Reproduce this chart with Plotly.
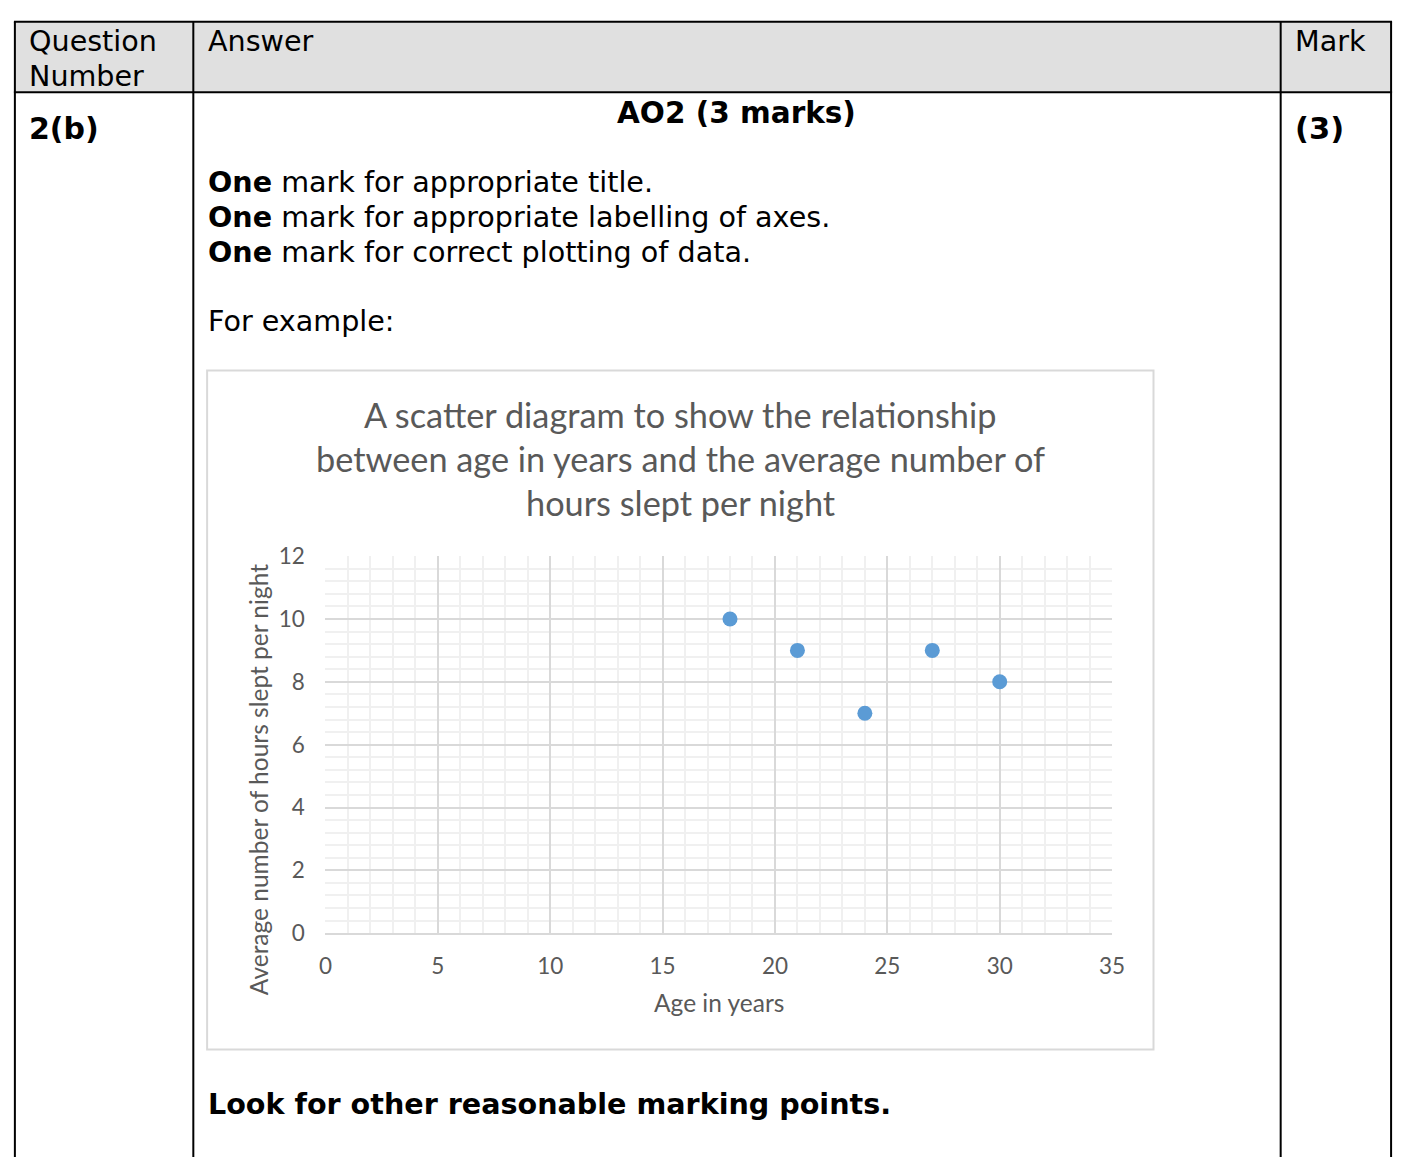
import plotly.graph_objects as go

W, H = 1410, 1165

# ---- data ----
ages = [18, 21, 24, 27, 30]
hours_slept = [10, 9, 7, 9, 8]
x_ticks = [0, 5, 10, 15, 20, 25, 30, 35]
y_ticks = [0, 2, 4, 6, 8, 10, 12]

title_lines = ["A scatter diagram to show the relationship",
               "between age in years and the average number of",
               "hours slept per night"]
x_title = "Age in years"
y_title = "Average number of hours slept per night"

TABLE_FONT = "DejaVu Sans"
CHART_FONT = "Lato"
GREY = "#595959"


def px(x):
    return x / W


def py(y):
    return 1 - y / H


fig = go.Figure()
fig.add_trace(go.Scatter(
    x=ages, y=hours_slept, mode="markers",
    marker=dict(color="#5b9bd5", size=15, line=dict(width=0)),
    showlegend=False, hoverinfo="x+y"))

shapes = []
# header fill
shapes.append(dict(type="rect", xref="paper", yref="paper", layer="below",
                   x0=px(8), x1=px(1404), y0=py(80), y1=py(8),
                   fillcolor="#e0e0e0", line=dict(width=0)))
# chart box
shapes.append(dict(type="rect", xref="paper", yref="paper", layer="below",
                   x0=px(203), x1=px(1163), y0=py(1060), y1=py(365),
                   fillcolor="white", line=dict(color="#d9d9d9", width=2)))
# table lines
for xv in [8, 189, 1292, 1404]:
    shapes.append(dict(type="line", xref="paper", yref="paper",
                       x0=px(xv), x1=px(xv), y0=py(8), y1=py(1170),
                       line=dict(color="black", width=2)))
for yv in [8, 80]:
    shapes.append(dict(type="line", xref="paper", yref="paper",
                       x0=px(7), x1=px(1405), y0=py(yv), y1=py(yv),
                       line=dict(color="black", width=2)))

annotations = []


def txt(text, x, y, size, xanchor="left", font=TABLE_FONT, color="black", textangle=0):
    annotations.append(dict(text=text, x=px(x), y=py(y), xref="paper", yref="paper",
                            xanchor=xanchor, yanchor="middle", showarrow=False,
                            textangle=textangle,
                            font=dict(family=font, size=size, color=color)))


TS = 28.6
txt("Question", 20, 28, TS)
txt("Number", 20, 63, TS)
txt("Answer", 202, 28, TS)
txt("Mark", 1305, 28, TS)
txt("<b>2(b)</b>", 20, 117, 30)
txt("<b>AO2 (3 marks)</b>", 740, 101, 29.5, xanchor="center")
txt("<b>(3)</b>", 1305, 117, 30.5)
txt("<b>One</b> mark for appropriate title.", 202, 172, TS)
txt("<b>One</b> mark for appropriate labelling of axes.", 202, 208, TS)
txt("<b>One</b> mark for correct plotting of data.", 202, 244, TS)
txt("For example:", 202, 314, TS)
txt("<b>Look for other reasonable marking points.</b>", 202, 1116, TS)

for i, line in enumerate(title_lines):
    txt(line, 683, 410 + 45 * i, 34.3, xanchor="center", font=CHART_FONT, color=GREY)

txt(x_title, 722, 1012, 24.5, xanchor="center", font=CHART_FONT, color=GREY)
txt(y_title, 255, 784, 24.5, xanchor="center", font=CHART_FONT, color=GREY, textangle=-90)

fig.update_layout(
    width=W, height=H, autosize=False,
    margin=dict(l=0, r=0, t=0, b=0),
    paper_bgcolor="white", plot_bgcolor="white",
    shapes=shapes, annotations=annotations,
    xaxis=dict(domain=[px(323), px(1121)], range=[0, 35],
               tickvals=x_ticks, showgrid=True, gridcolor="#d9d9d9", gridwidth=1.5,
               minor=dict(dtick=1, showgrid=True, gridcolor="#f0f0f0", gridwidth=1.5),
               zeroline=False, showline=True, linecolor="#d9d9d9", linewidth=2,
               ticks="outside", ticklen=12, tickcolor="rgba(0,0,0,0)",
               tickfont=dict(family=CHART_FONT, size=22.5, color=GREY), fixedrange=True),
    yaxis=dict(domain=[py(941), py(555)], range=[0, 12],
               tickvals=y_ticks, showgrid=True, gridcolor="#d9d9d9", gridwidth=1.5,
               minor=dict(dtick=0.4, showgrid=True, gridcolor="#f0f0f0", gridwidth=1.5),
               zeroline=False, showline=False,
               ticks="outside", ticklen=15, tickcolor="rgba(0,0,0,0)",
               tickfont=dict(family=CHART_FONT, size=22.5, color=GREY), fixedrange=True),
)

fig.write_html("out.html", config={"displayModeBar": False},
               post_script="document.body.style.margin='0';document.documentElement.style.overflow='hidden';document.body.style.overflow='hidden';")
